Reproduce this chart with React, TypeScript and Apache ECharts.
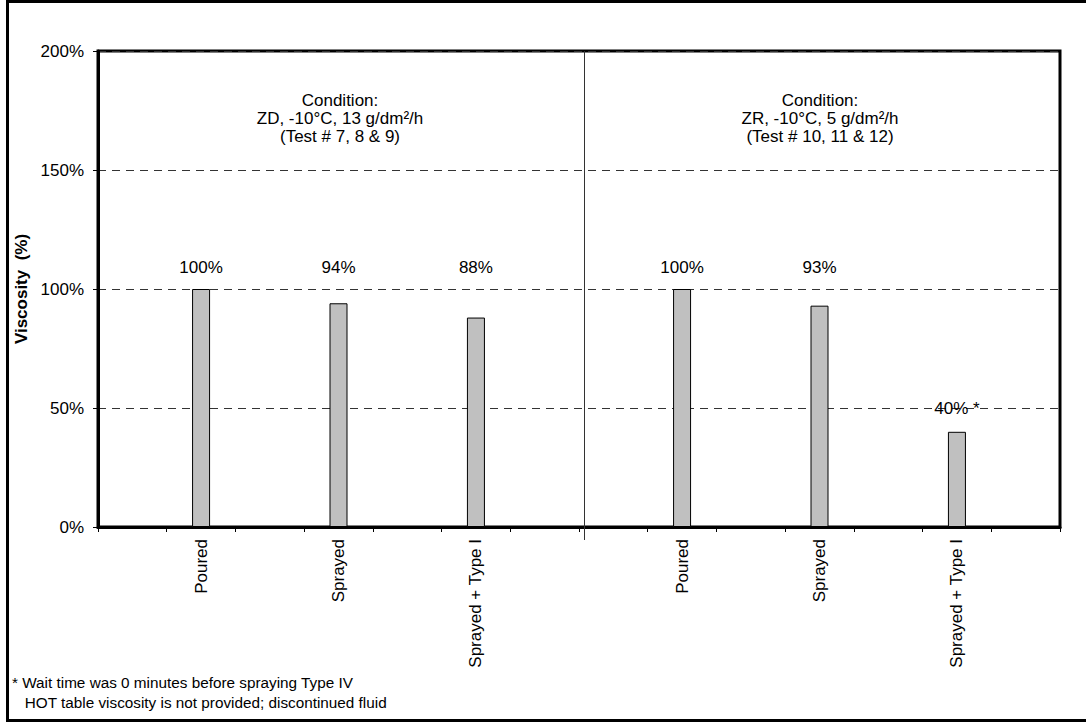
import React, { useEffect, useRef } from "react";
import * as echarts from "echarts";

const categories = [
  "", "Poured", "", "Sprayed", "", "Sprayed + Type I", "",
  "", "Poured", "", "Sprayed", "", "Sprayed + Type I", "",
];
const viscosity: (number | null)[] = [
  null, 100, null, 94, null, 88, null,
  null, 100, null, 93, null, 40, null,
];
const valueLabels = [
  "", "100%", "", "94%", "", "88%", "",
  "", "100%", "", "93%", "", "40% *", "",
];
// height (in % units) at which each value label is written in the original
const labelHeights: (number | null)[] = [
  null, 109, null, 109, null, 109, null,
  null, 109, null, 109, null, 50, null,
];
const yTicks = { min: 0, max: 200, interval: 50 };
const leftCondition = "Condition:\nZD, -10°C, 13 g/dm²/h\n(Test # 7, 8 & 9)";
const rightCondition = "Condition:\nZR, -10°C, 5 g/dm²/h\n(Test # 10, 11 & 12)";
const footnote = "* Wait time was 0 minutes before spraying Type IV\n   HOT table viscosity is not provided; discontinued fluid";

const FONT = "Arial, 'Liberation Sans', sans-serif";

export default function App() {
  const ref = useRef<HTMLDivElement>(null);
  useEffect(() => {
    if (!ref.current) return;
    const chart = echarts.init(ref.current, null, { renderer: "svg" });
    const labelData = categories.map((c, i) =>
      labelHeights[i] == null ? null : [i, labelHeights[i]]
    );
    chart.setOption({
      animation: false,
      backgroundColor: "#ffffff",
      textStyle: { fontFamily: FONT },
      grid: {
        left: 98,
        right: 26,
        top: 51,
        bottom: 196,
        show: true,
        borderColor: "#000",
        borderWidth: 3,
        backgroundColor: "transparent",
      },
      xAxis: {
        type: "category",
        data: categories,
        axisLine: { show: true, lineStyle: { color: "#000", width: 3 } },
        axisTick: { show: true, interval: 0, length: 5, lineStyle: { color: "#000", width: 1 } },
        axisLabel: {
          interval: 0,
          rotate: 90,
          margin: 12,
          color: "#000",
          fontSize: 17,
          fontFamily: FONT,
        },
        splitLine: { show: false },
      },
      yAxis: {
        type: "value",
        min: yTicks.min,
        max: yTicks.max,
        interval: yTicks.interval,
        name: "Viscosity  (%)",
        nameLocation: "middle",
        nameRotate: 90,
        nameGap: 66,
        nameTextStyle: { fontSize: 17, fontWeight: "bold", color: "#000", fontFamily: FONT },
        axisLine: { show: true, lineStyle: { color: "#000", width: 3 } },
        axisTick: { show: true, length: 5, lineStyle: { color: "#000", width: 1 } },
        axisLabel: {
          formatter: "{value}%",
          margin: 14,
          color: "#000",
          fontSize: 17,
          fontFamily: FONT,
        },
        splitLine: {
          show: true,
          lineStyle: { color: "#333", width: 1, type: [8, 6] },
        },
      },
      series: [
        {
          type: "bar",
          data: viscosity,
          barWidth: 18,
          itemStyle: { color: "#c0c0c0", borderColor: "#000", borderWidth: 1 },
          label: { show: false },
        },
        {
          type: "scatter",
          data: labelData,
          symbolSize: 1,
          z: 5,
          itemStyle: { color: "transparent", opacity: 1 },
          label: {
            show: true,
            position: "inside",
            color: "#000",
            opacity: 1,
            fontSize: 17,
            fontFamily: FONT,
            formatter: (p: any) => valueLabels[p.dataIndex],
          },
        },
      ],
      graphic: [
        {
          type: "rect",
          shape: { x: 7.5, y: 1.5, width: 1090, height: 719 },
          style: { fill: "none", stroke: "#000", lineWidth: 3 },
          silent: true,
          z: 10,
        },
        {
          type: "line",
          shape: { x1: 584.5, y1: 51, x2: 584.5, y2: 540 },
          style: { stroke: "#333", lineWidth: 1 },
          z: 10,
        },
        {
          type: "text",
          x: 340,
          y: 91,
          style: {
            text: leftCondition,
            fontSize: 17,
            fontFamily: FONT,
            fill: "#000",
            align: "center",
            verticalAlign: "top",
            lineHeight: 18,
          },
        },
        {
          type: "text",
          x: 820,
          y: 91,
          style: {
            text: rightCondition,
            fontSize: 17,
            fontFamily: FONT,
            fill: "#000",
            align: "center",
            verticalAlign: "top",
            lineHeight: 18,
          },
        },
        {
          type: "text",
          x: 12,
          y: 672,
          style: {
            text: footnote,
            fontSize: 15.3,
            fontFamily: FONT,
            fill: "#000",
            align: "left",
            verticalAlign: "top",
            lineHeight: 20,
          },
        },
      ],
    });
    return () => chart.dispose();
  }, []);
  return (
    <div
      ref={ref}
      style={{ position: "absolute", left: 0, top: 0, width: 1086, height: 723 }}
    />
  );
}
